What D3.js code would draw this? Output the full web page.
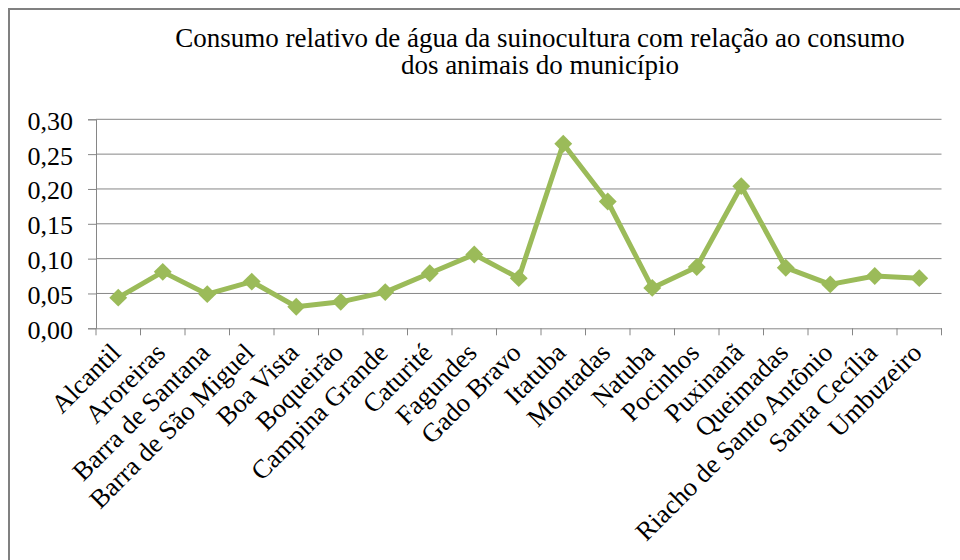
<!DOCTYPE html>
<html><head><meta charset="utf-8">
<script src="https://cdn.jsdelivr.net/npm/d3@7"></script>
<style>body{margin:0;background:#fff}svg{display:block}</style>
</head><body>
<svg id="c" width="960" height="560"></svg>
<script>
const categories = ["Alcantil","Aroreiras","Barra de Santana","Barra de São Miguel","Boa Vista","Boqueirão","Campina Grande","Caturité","Fagundes","Gado Bravo","Itatuba","Montadas","Natuba","Pocinhos","Puxinanã","Queimadas","Riacho de Santo Antônio","Santa Cecília","Umbuzeiro"];
const values = [0.044,0.081,0.049,0.067,0.031,0.038,0.052,0.079,0.106,0.072,0.265,0.182,0.058,0.088,0.204,0.087,0.063,0.075,0.072];
const yTicks = [0,0.05,0.10,0.15,0.20,0.25,0.30];
const titleLines = ["Consumo relativo de água da suinocultura com relação ao consumo","dos animais do município"];

(function(){
const svg = d3.select("#c");
const font = "Liberation Serif, Times New Roman, serif";
svg.append("rect").attr("x",9).attr("y",9).attr("width",960).attr("height",560)
  .attr("fill","#fff").attr("stroke","#808080").attr("stroke-width",2);

const pL=96,pR=941.5,pT=119.3,pB=328.3;
const x = d3.scaleBand().domain(categories).range([pL,pR]);
const y = d3.scaleLinear().domain([0,0.30]).range([pB,pT]);

svg.append("g").selectAll("line").data(yTicks.slice(1)).join("line")
  .attr("x1",pL).attr("x2",pR).attr("y1",d=>y(d)).attr("y2",d=>y(d))
  .attr("stroke","#868686").attr("stroke-width",1);

const fmt = d=>d.toFixed(2).replace(".",",");
const ya = svg.append("g").attr("transform",`translate(${pL},0)`)
  .call(d3.axisLeft(y).tickValues(yTicks).tickFormat(fmt).tickSize(8).tickPadding(15));
ya.select(".domain").attr("stroke","#868686");
ya.selectAll(".tick line").attr("stroke","#868686");
ya.selectAll("text").style("font-family",font).style("font-size","26px").attr("fill","#000").attr("dy","0.38em");

const xa = svg.append("g").attr("transform",`translate(0,${pB})`)
  .call(d3.axisBottom(x).tickSize(0).tickFormat(""));
xa.select(".domain").attr("stroke","#868686");
svg.append("g").selectAll("line").data(categories.concat(["__end"])).join("line")
  .attr("x1",(d,i)=>pL+i*x.step()).attr("x2",(d,i)=>pL+i*x.step())
  .attr("y1",pB).attr("y2",pB+7).attr("stroke","#868686");

svg.append("g").selectAll("text").data(categories).join("text")
  .attr("transform",d=>`translate(${x(d)+x.bandwidth()/2+4},${pB+26}) rotate(-45)`)
  .attr("text-anchor","end")
  .style("font-family",font).style("font-size","26.5px").attr("fill","#000").text(d=>d);

const cx = d=>x(d)+x.bandwidth()/2;
svg.append("path").datum(values)
  .attr("d",d3.line().x((d,i)=>cx(categories[i])).y(d=>y(d)))
  .attr("fill","none").attr("stroke","#9BBB59").attr("stroke-width",5).attr("stroke-linejoin","round");
svg.append("g").selectAll("path").data(values).join("path")
  .attr("d",d3.symbol(d3.symbolSquare,160)).attr("transform",(d,i)=>`translate(${cx(categories[i])},${y(d)}) rotate(45)`)
  .attr("fill","#9BBB59");

svg.append("g").selectAll("text").data(titleLines).join("text")
  .attr("x",540).attr("y",(d,i)=>47+i*27).attr("text-anchor","middle")
  .style("font-family",font).style("font-size","27px").attr("fill","#000").text(d=>d);
})();
</script>
</body></html>
